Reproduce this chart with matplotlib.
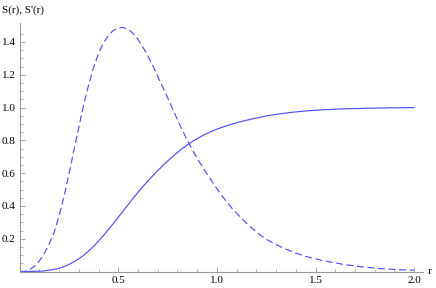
import matplotlib
matplotlib.use("Agg")
import matplotlib.pyplot as plt
from matplotlib.ticker import FixedLocator

r_vals = [0.000, 0.025, 0.050, 0.075, 0.100, 0.125, 0.150, 0.175, 0.200, 0.225,
          0.250, 0.275, 0.300, 0.325, 0.350, 0.375, 0.400, 0.425, 0.450, 0.475,
          0.500, 0.525, 0.550, 0.575, 0.600, 0.625, 0.650, 0.675, 0.700, 0.725,
          0.750, 0.775, 0.800, 0.825, 0.850, 0.875, 0.900, 0.925, 0.950, 0.975,
          1.000, 1.025, 1.050, 1.075, 1.100, 1.125, 1.150, 1.175, 1.200, 1.225,
          1.250, 1.275, 1.300, 1.325, 1.350, 1.375, 1.400, 1.425, 1.450, 1.475,
          1.500, 1.525, 1.550, 1.575, 1.600, 1.625, 1.650, 1.675, 1.700, 1.725,
          1.750, 1.775, 1.800, 1.825, 1.850, 1.875, 1.900, 1.925, 1.950, 1.975,
          2.000]

S_vals = [0.000, 0.000, 0.000, 0.001, 0.002, 0.004, 0.008, 0.013, 0.020, 0.030,
          0.043, 0.059, 0.078, 0.100, 0.125, 0.154, 0.186, 0.220, 0.256, 0.293,
          0.331, 0.370, 0.408, 0.446, 0.483, 0.518, 0.552, 0.584, 0.615, 0.645,
          0.673, 0.700, 0.726, 0.750, 0.772, 0.792, 0.810, 0.827, 0.842, 0.856,
          0.868, 0.879, 0.889, 0.898, 0.907, 0.915, 0.922, 0.929, 0.936, 0.942,
          0.948, 0.953, 0.958, 0.962, 0.966, 0.970, 0.973, 0.976, 0.979, 0.981,
          0.983, 0.985, 0.987, 0.988, 0.990, 0.991, 0.992, 0.993, 0.994, 0.994,
          0.995, 0.996, 0.996, 0.997, 0.997, 0.998, 0.998, 0.998, 0.999, 0.999,
          0.999]

dS_vals = [0.000, 0.000, 0.010, 0.033, 0.065, 0.110, 0.170, 0.240, 0.340, 0.460,
           0.595, 0.740, 0.880, 1.020, 1.140, 1.245, 1.330, 1.395, 1.440, 1.470,
           1.485, 1.488, 1.478, 1.452, 1.415, 1.368, 1.315, 1.255, 1.190, 1.125,
           1.060, 0.992, 0.925, 0.861, 0.800, 0.743, 0.690, 0.641, 0.595, 0.549,
           0.505, 0.463, 0.424, 0.388, 0.355, 0.324, 0.295, 0.267, 0.241, 0.218,
           0.197, 0.180, 0.164, 0.150, 0.137, 0.124, 0.112, 0.102, 0.092, 0.084,
           0.077, 0.070, 0.064, 0.058, 0.053, 0.047, 0.042, 0.038, 0.034, 0.030,
           0.027, 0.024, 0.021, 0.018, 0.016, 0.014, 0.013, 0.011, 0.010, 0.009,
           0.008]

x_major = [0.5, 1.0, 1.5, 2.0]
x_labels = ['0.5', '1.0', '1.5', '2.0']
y_major = [0.2, 0.4, 0.6, 0.8, 1.0, 1.2, 1.4]
y_labels = ['0.2', '0.4', '0.6', '0.8', '1.0', '1.2', '1.4']

plt.rcParams['lines.scale_dashes'] = False
serif = ['Liberation Serif', 'DejaVu Serif']

W, H = 436, 288
fig = plt.figure(figsize=(W / 100, H / 100), dpi=100)
x0px, y0px = 19.7, 271.5
xs, ys = 197.2, 164.0
xmax, ymax = 2.045, 1.515
ax = fig.add_axes([x0px / W, (H - y0px) / H, xmax * xs / W, ymax * ys / H])
ax.set_xlim(0, xmax)
ax.set_ylim(0, ymax)

col = '#4f4ff5'
ax.plot(r_vals, S_vals, color=col, lw=0.85, solid_joinstyle='round')
ax.plot(r_vals, dS_vals, color=col, lw=0.85, dashes=(5, 2.6))

for s in ['top', 'right']:
    ax.spines[s].set_visible(False)
for s in ['left', 'bottom']:
    ax.spines[s].set_color('#999999')
    ax.spines[s].set_linewidth(0.8)

ax.xaxis.set_major_locator(FixedLocator(x_major))
ax.yaxis.set_major_locator(FixedLocator(y_major))
ax.xaxis.set_minor_locator(FixedLocator([i * 0.1 for i in range(1, 21) if i % 5 != 0]))
ax.yaxis.set_minor_locator(FixedLocator([i * 0.05 for i in range(1, 30) if i % 4 != 0]))
ax.tick_params(which='major', direction='in', length=3.5, width=0.6, color='#999999',
               labelsize=8, pad=3)
ax.tick_params(which='minor', direction='in', length=2, width=0.5, color='#999999')
ax.set_xticklabels(x_labels, family=serif)
ax.set_yticklabels(y_labels, family=serif)

fig.text(2 / W, 1 - 10 / H, "S(r), S'(r)", family=serif, fontsize=8, ha='left', va='center')
fig.text(428 / W, 1 - 271 / H, "r", family=serif, fontsize=8, ha='left', va='center')

fig.savefig('out.png', dpi=100)
